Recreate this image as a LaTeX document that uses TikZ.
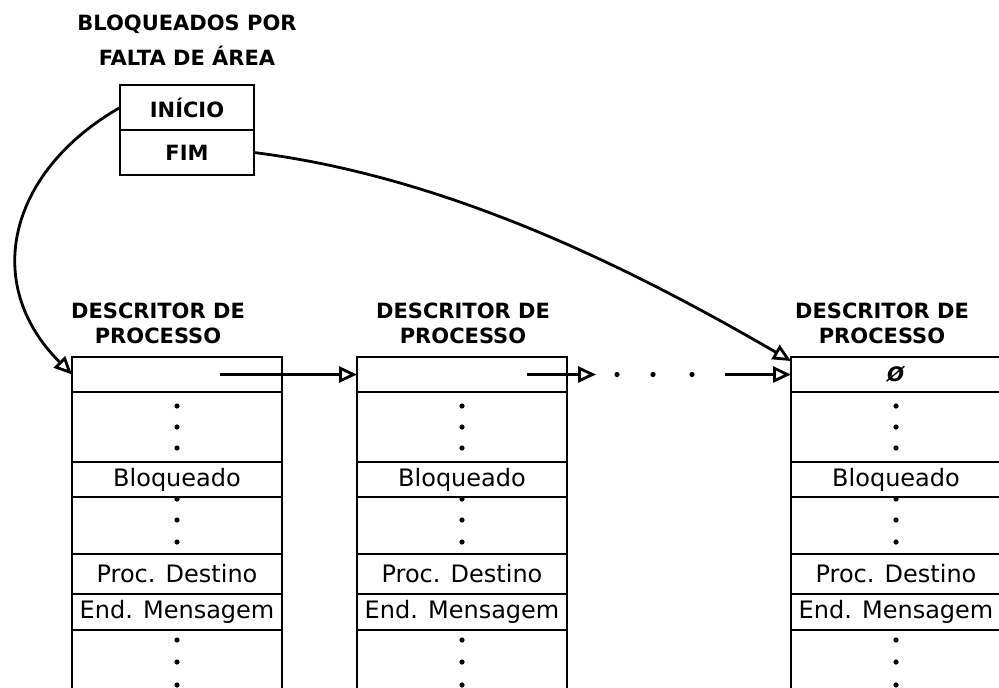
\documentclass[tikz,border=0pt]{standalone}
\usepackage{fontspec}
\setmainfont{DejaVu Sans}
\usetikzlibrary{arrows.meta,calc,positioning}

\begin{document}
\begin{tikzpicture}[x=0.5pt,y=-0.5pt,line width=1.4pt,
    cell/.style={draw,inner sep=0pt,outer sep=0pt,minimum width=105pt,font=\fontsize{12}{14}\selectfont},
    head/.style={inner sep=0pt,align=center,font=\bfseries\fontsize{10.5}{12.5}\selectfont},
    ptr/.style={-{Triangle[open,length=9pt,width=8pt]}}]
        \clip (0,0) rectangle (999,687);
        % Queue header
        \node[cell,head,minimum width=67pt,minimum height=22.5pt,anchor=north west] (ini) at (120,85) {INÍCIO};
        \node[cell,head,minimum width=67pt,minimum height=22.5pt,below=0pt of ini] (fim) {FIM};
        \node[head,font=\bfseries\fontsize{10.5}{17.5}\selectfont,above=9pt of ini] (fila) {BLOQUEADOS POR\\FALTA DE ÁREA};
        % Process descriptors
        \foreach \i/\x/\t in {a/72/86, b/357/106, c/791/91} {
            \node[cell,minimum height=17.5pt,anchor=north west] (\i1) at (\x,357) {};
            \node[cell,minimum height=35pt,below=0pt of \i1] (\i2) {};
            \node[cell,minimum height=17.5pt,below=0pt of \i2] (\i3) {Bloqueado};
            \node[cell,minimum height=28.5pt,below=0pt of \i3] (\i4) {};
            \node[cell,minimum height=20pt,below=0pt of \i4] (\i5) {Proc. Destino};
            \node[cell,minimum height=18pt,below=0pt of \i5] (\i6) {End. Mensagem};
            \node[cell,minimum height=40pt,below=0pt of \i6] (\i7) {};
            \node[head] (\i-tit) at ($(\x,323)+(\t,0)$) {DESCRITOR DE\\PROCESSO};
            % Fill dots
            \foreach \d in {14,35,56} \fill ($(\i2.north)+(0,\d)$) circle (1.3pt);
            \foreach \d in {2,23,45} \fill ($(\i4.north)+(0,\d)$) circle (1.3pt);
            \foreach \d in {10,32,55} \fill ($(\i7.north)+(0,\d)$) circle (1.3pt);
          }
        \node (nil) at (c1) {\textbf{\textit{Ø}}};
        % Links between descriptors
        \coordinate (a-out) at ($(a1.center)+(43,0)$);
        \coordinate (b-out) at ($(b1.center)+(65,0)$);
        \coordinate (b-end) at ($(b1.east)+(29,0)$);
        \coordinate (c-from) at ($(c1.west)+(-66,0)$);
        \draw[ptr] (a-out) -- (b1.west);
        \draw[ptr] (b-out) -- (b-end);
        \foreach \d in {617,653,692} \fill (\d,374.5) circle (1.3pt);
        \draw[ptr] (c-from) -- (c1.west);
        % Head and tail pointers
        \coordinate (c-in) at ($(c1.north west)+(0,4)$);
        \draw[ptr] (ini.west) .. controls +(-110,63) and +(-92,-92) .. (a1.west);
        \draw[ptr] (fim.east) .. controls +(200,25) and +(-150,-87) .. (c-in);
      \end{tikzpicture}
\end{document}
